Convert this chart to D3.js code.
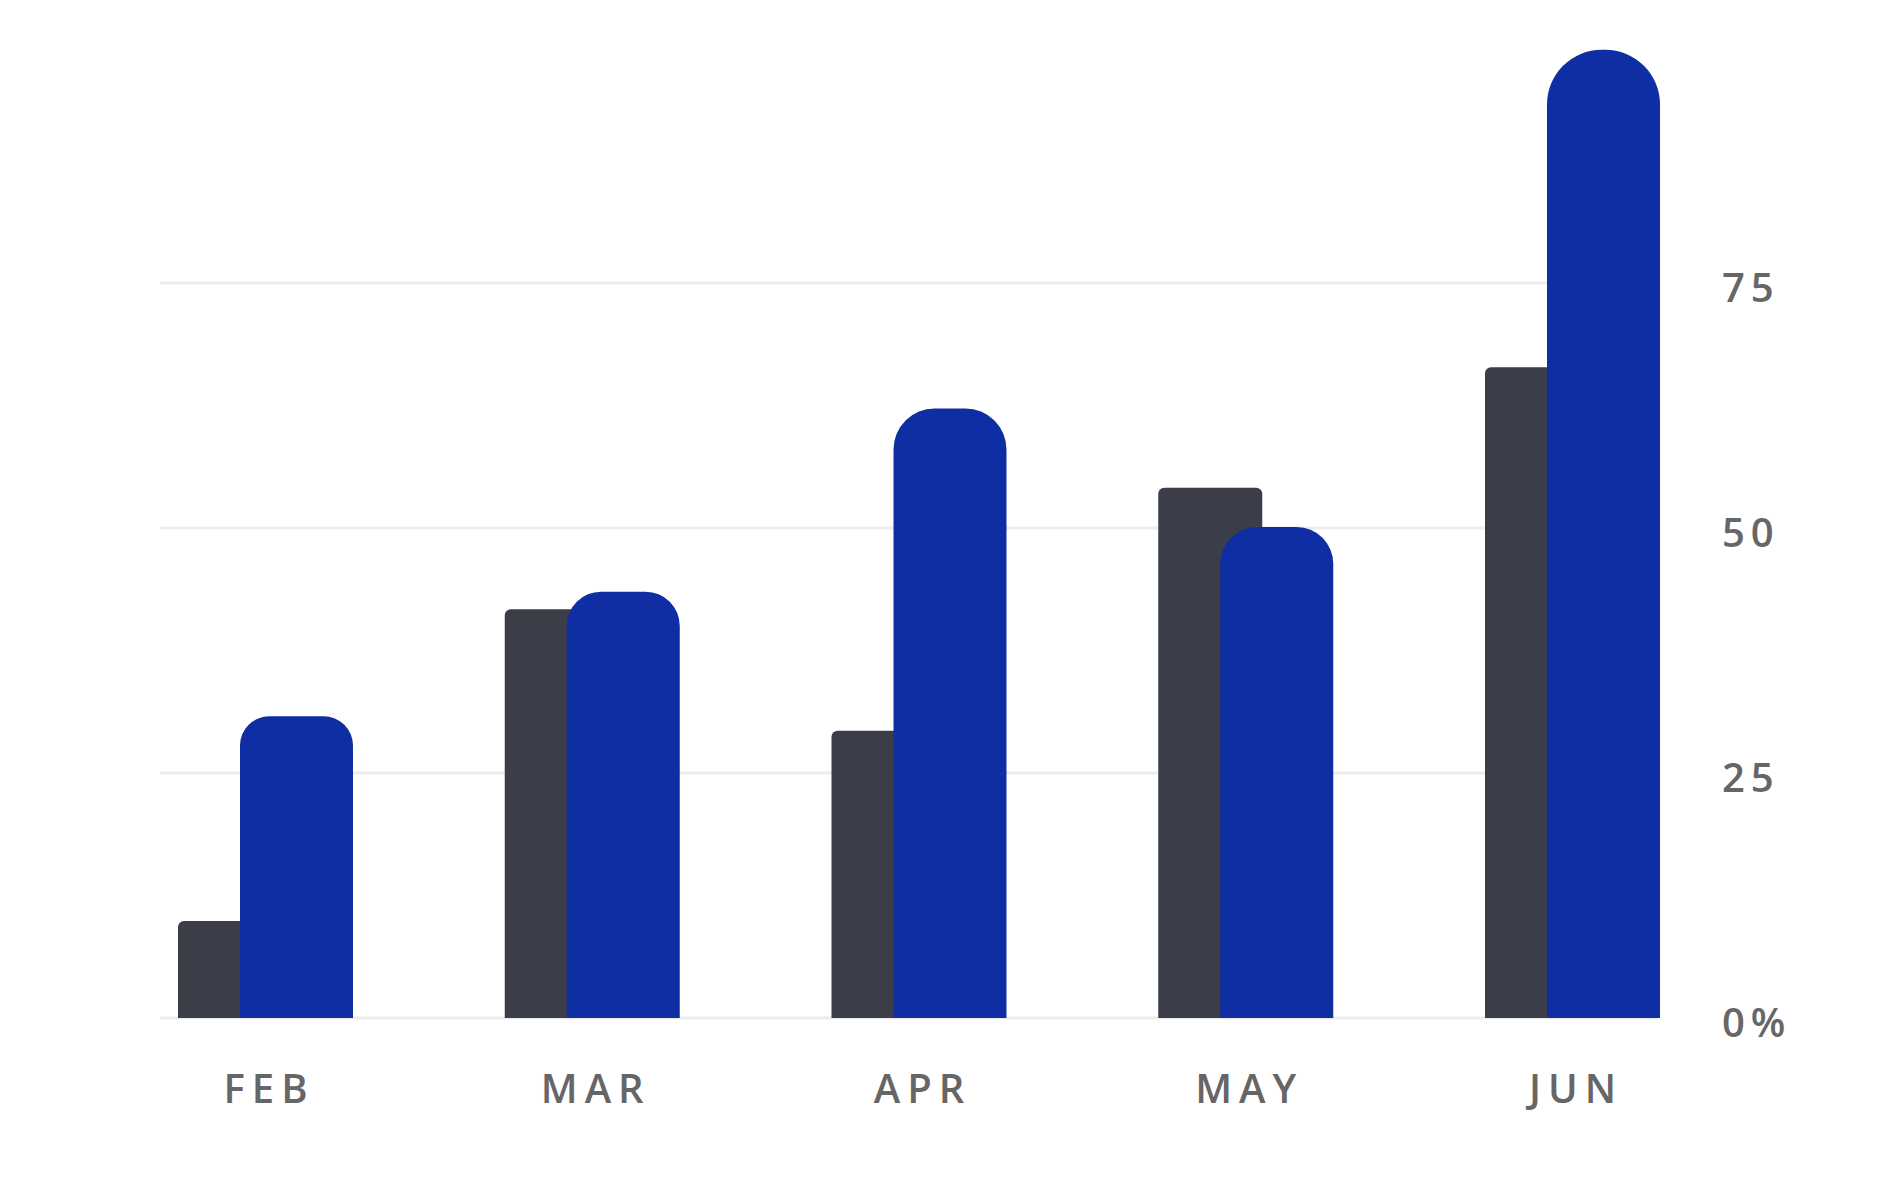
<!DOCTYPE html>
<html>
<head>
<meta charset="utf-8">
<script src="https://cdn.jsdelivr.net/npm/d3@7"></script>
<style>
  html, body { margin: 0; padding: 0; background: #ffffff; }
  svg { display: block; }
  .lbl { font-family: "Open Sans", sans-serif; font-weight: 600; fill: #666666; }
</style>
</head>
<body>
<svg id="chart" width="1880" height="1194"></svg>
<script>
const months = ["FEB", "MAR", "APR", "MAY", "JUN"];
const seriesDark = [9.9, 41.7, 29.3, 54.1, 66.4];
const seriesBlue = [30.8, 43.5, 62.2, 50.1, 98.8];
const yTicks = [0, 25, 50, 75];
const yTickLabels = ["0%", "25", "50", "75"];

const svg = d3.select("#chart");

const y = d3.scaleLinear().domain([0, 100]).range([1018, 38]);
const x = d3.scalePoint().domain(months).range([265, 1572]);

const darkOffset = -87, darkWidth = 104;
const blueOffset = -25, blueWidth = 113;
const gridX0 = 160, gridX1 = 1658;

// gridlines
svg.append("g").selectAll("line").data(yTicks).join("line")
  .attr("x1", gridX0).attr("x2", gridX1)
  .attr("y1", d => y(d)).attr("y2", d => y(d))
  .attr("stroke", "#ececec").attr("stroke-width", 3);

// rounded-top bar path
function topRounded(x0, w, yTop, yBot, r) {
  r = Math.min(r, w / 2, yBot - yTop);
  return `M${x0},${yBot} L${x0},${yTop + r} A${r},${r} 0 0 1 ${x0 + r},${yTop} ` +
         `L${x0 + w - r},${yTop} A${r},${r} 0 0 1 ${x0 + w},${yTop + r} L${x0 + w},${yBot} Z`;
}

// dark bars
svg.append("g").selectAll("path").data(months).join("path")
  .attr("d", (m, i) => topRounded(x(m) + darkOffset, darkWidth, y(seriesDark[i]), y(0), 6))
  .attr("fill", "#3b3d48");

// blue bars
svg.append("g").selectAll("path").data(months).join("path")
  .attr("d", (m, i) => {
    const h = y(0) - y(seriesBlue[i]);
    return topRounded(x(m) + blueOffset, blueWidth, y(seriesBlue[i]), y(0), 18 + 0.038 * h);
  })
  .attr("fill", "#102ea3");

// x labels
svg.append("g").selectAll("text").data(months).join("text")
  .attr("class", "lbl")
  .attr("x", m => x(m) + 4)
  .attr("y", 1103)
  .attr("text-anchor", "middle")
  .attr("font-size", 40)
  .attr("letter-spacing", 7)
  .text(m => m);

// y labels (right)
svg.append("g").selectAll("text").data(yTicks).join("text")
  .attr("class", "lbl")
  .attr("x", 1722)
  .attr("y", d => y(d) + 19)
  .attr("text-anchor", "start")
  .attr("font-size", 40)
  .attr("letter-spacing", 6)
  .text((d, i) => yTickLabels[i]);
</script>
</body>
</html>
